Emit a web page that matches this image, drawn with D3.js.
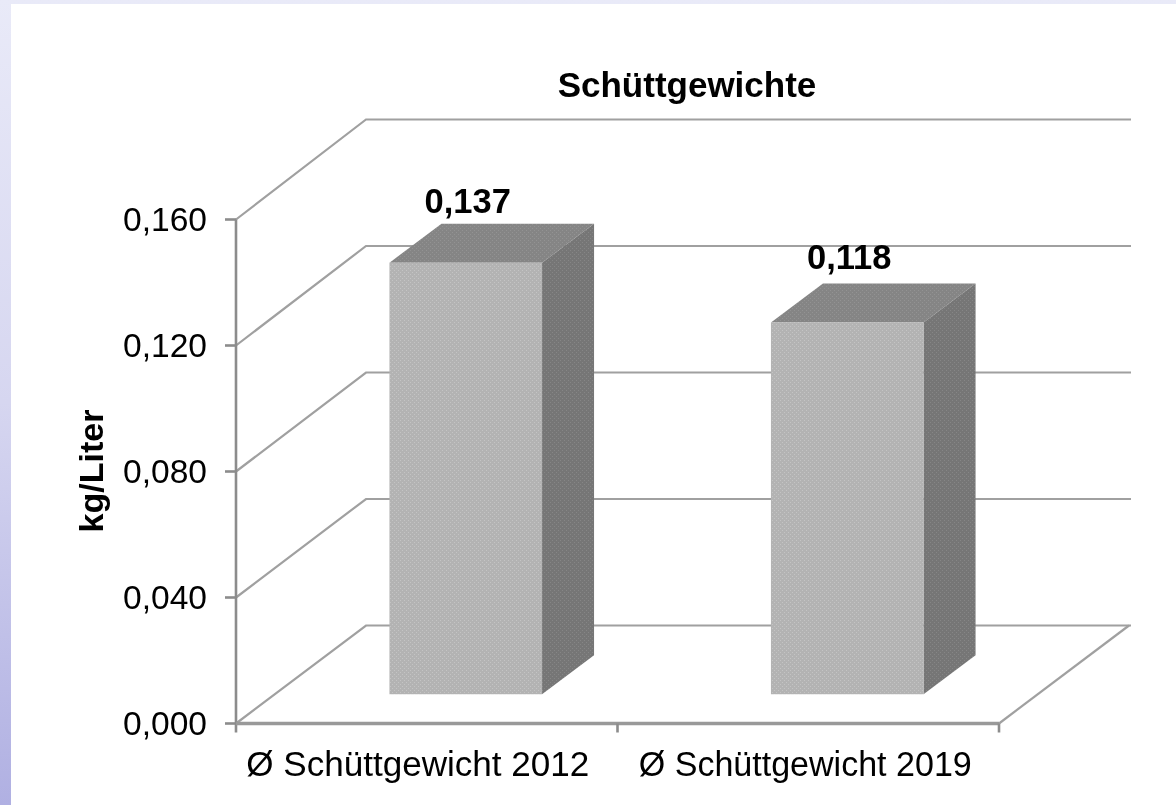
<!DOCTYPE html>
<html><head><meta charset="utf-8">
<script src="https://cdn.jsdelivr.net/npm/d3@7/dist/d3.min.js"></script>
<style>html,body{margin:0;padding:0;background:#fff;overflow:hidden}text{font-family:"Liberation Sans",Arial,sans-serif;fill:#000}</style>
</head><body><script>
const categories = ["Ø Schüttgewicht 2012", "Ø Schüttgewicht 2019"];
const values = [0.137, 0.118];
const valueLabels = ["0,137", "0,118"];
const yTicks = [0, 0.04, 0.08, 0.12, 0.16];
const yTickLabels = ["0,000", "0,040", "0,080", "0,120", "0,160"];
const titleText = "Schüttgewichte";
const yTitle = "kg/Liter";

const W = 1176, H = 805;
const svg = d3.select("body").append("svg").attr("width", W).attr("height", H).style("display", "block");
const defs = svg.append("defs");
const g = defs.append("linearGradient").attr("id", "bg").attr("x1", 0).attr("y1", 0).attr("x2", 0).attr("y2", 1);
g.append("stop").attr("offset", 0).attr("stop-color", "#e9eaf8");
g.append("stop").attr("offset", 0.5).attr("stop-color", "#d6d6f0");
g.append("stop").attr("offset", 1).attr("stop-color", "#b0b0e2");
defs.append("filter").attr("id", "soft").attr("x", 0).attr("y", 0).attr("width", 1).attr("height", 1)
  .attr("filterUnits", "objectBoundingBox")
  .append("feGaussianBlur").attr("stdDeviation", 0.55);
const dots = (id, base, dot) => {
  const p = defs.append("pattern").attr("id", id).attr("patternUnits", "userSpaceOnUse").attr("width", 4).attr("height", 4);
  p.append("rect").attr("width", 4).attr("height", 4).attr("fill", base);
  p.append("rect").attr("x", 0).attr("y", 0).attr("width", 1).attr("height", 1).attr("fill", dot);
  p.append("rect").attr("x", 2).attr("y", 2).attr("width", 1).attr("height", 1).attr("fill", dot);
};
dots("front", "#b3b3b3", "#c4c4c4");
dots("side", "#767676", "#868686");
dots("top", "#858585", "#939393");

svg.append("rect").attr("width", W).attr("height", H).attr("fill", "url(#bg)");
const plot = svg.append("g").attr("filter", "url(#soft)");
plot.append("rect").attr("x", 11).attr("y", 4).attr("width", W - 11).attr("height", H - 4).attr("fill", "#fff");

const x = d3.scaleBand().domain(categories).range([236, 999]);
const y = d3.scaleLinear().domain([0, 0.16]).range([723.5, 219.5]);
const yBack = d3.scaleLinear().domain([0, 0.16]).range([625.5, 119.5]);
const depthX = 130, depthY = -97.5;
const barInner = 0.4;
const zFront = 0.3, zBack = 0.7;
const px = (v, z) => v + depthX * z;
const py = (v, z) => v + depthY * z;
const grid = "#a0a0a0";

const gridG = plot.append("g").attr("fill", "none").attr("stroke", grid).attr("stroke-width", 2.2);
yTicks.forEach(t => {
  gridG.append("path").attr("d", d3.line()([
    [x.range()[0], y(t)], [px(x.range()[0], 1), yBack(t)], [px(x.range()[1], 1) + 2, yBack(t)]
  ]));
});
gridG.append("line").attr("x1", x.range()[1]).attr("y1", y(0)).attr("x2", px(x.range()[1], 1)).attr("y2", yBack(0));

const axG = plot.append("g").attr("stroke", "#8c8c8c").attr("stroke-width", 2.6).attr("fill", "none");
axG.append("line").attr("x1", x.range()[0]).attr("x2", x.range()[0]).attr("y1", y(0.16)).attr("y2", y(0) + 9);
axG.append("line").attr("x1", x.range()[0]).attr("x2", x.range()[1]).attr("y1", y(0)).attr("y2", y(0)).attr("stroke-width", 3.4).attr("stroke", "#999");
yTicks.forEach(t => axG.append("line").attr("x1", x.range()[0] - 11).attr("x2", x.range()[0]).attr("y1", y(t)).attr("y2", y(t)));
[x.range()[0] + x.step(), x.range()[1]].forEach(v => axG.append("line").attr("x1", v).attr("x2", v).attr("y1", y(0)).attr("y2", y(0) + 9));

categories.forEach((c, i) => {
  const w = x.bandwidth() * barInner;
  const x0 = x(c) + (x.bandwidth() - w) / 2;
  const x1 = x0 + w;
  const yt = y(values[i]), yb = y(0);
  const poly = (pts, fill) => plot.append("polygon").attr("points", pts.map(p => p.join(",")).join(" ")).attr("fill", fill);
  poly([[px(x0, zFront), py(yt, zFront)], [px(x1, zFront), py(yt, zFront)], [px(x1, zBack), py(yt, zBack)], [px(x0, zBack), py(yt, zBack)]], "url(#top)");
  poly([[px(x1, zFront), py(yt, zFront)], [px(x1, zBack), py(yt, zBack)], [px(x1, zBack), py(yb, zBack)], [px(x1, zFront), py(yb, zFront)]], "url(#side)");
  poly([[px(x0, zFront), py(yt, zFront)], [px(x1, zFront), py(yt, zFront)], [px(x1, zFront), py(yb, zFront)], [px(x0, zFront), py(yb, zFront)]], "url(#front)");
  plot.append("text").attr("x", (px(x0, zFront) + px(x1, zBack)) / 2 - 24).attr("y", py(yt, zBack) - (i ? 15 : 11))
    .attr("text-anchor", "middle").attr("font-size", 34.5).attr("font-weight", "bold").text(valueLabels[i]);
});

yTicks.forEach((t, i) => plot.append("text").attr("x", 207).attr("y", y(t) + 11).attr("text-anchor", "end").attr("font-size", 33.6).text(yTickLabels[i]));
categories.forEach((c, i) => plot.append("text").attr("x", x(c) + x.bandwidth() / 2 - (i ? 3 : 9)).attr("y", 776).attr("text-anchor", "middle").attr("font-size", 35).attr("textLength", i ? 333 : 343).attr("lengthAdjust", "spacingAndGlyphs").text(c));
plot.append("text").attr("x", 687).attr("y", 97).attr("text-anchor", "middle").attr("font-size", 35).attr("font-weight", "bold").text(titleText);
plot.append("text").attr("transform", "translate(103,471) rotate(-90)").attr("text-anchor", "middle").attr("font-size", 34).attr("font-weight", "bold").text(yTitle);
</script></body></html>
